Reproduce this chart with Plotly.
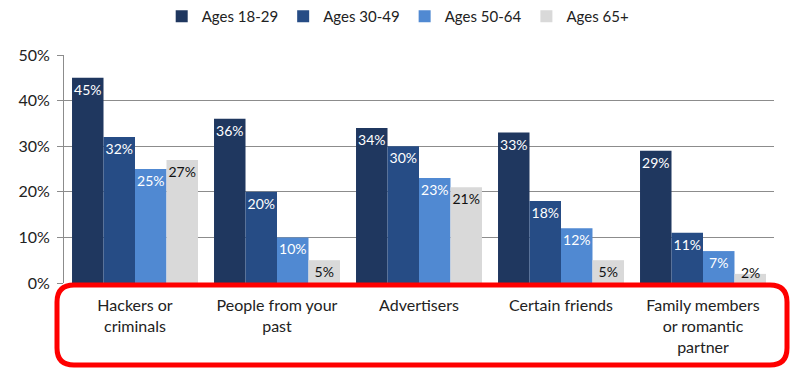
import plotly.graph_objects as go

categories = ["Hackers or<br>criminals", "People from your<br>past", "Advertisers",
              "Certain friends", "Family members<br>or romantic<br>partner"]
series_names = ["Ages 18-29", "Ages 30-49", "Ages 50-64", "Ages 65+"]
ages_18_29 = [45, 36, 34, 33, 29]
ages_30_49 = [32, 20, 30, 18, 11]
ages_50_64 = [25, 10, 23, 12, 7]
ages_65_plus = [27, 5, 21, 5, 2]
y_ticks = [0, 10, 20, 30, 40, 50]

colors = ["#1f375f", "#264c85", "#5089d2", "#d9d9d9"]
text_colors = ["white", "white", "white", "#111111"]

W, H = 790, 368
ML, MR, MT, MB = 64, 16, 55, 85
BARGAP = 0.113
MIN_INSIDE = 4  # values below this get their label set on the baseline

all_series = [ages_18_29, ages_30_49, ages_50_64, ages_65_plus]
fig = go.Figure()
for name, vals, c, tc in zip(series_names, all_series, colors, text_colors):
    fig.add_trace(go.Bar(
        x=categories, y=vals, name=name,
        marker=dict(color=c, line=dict(width=0)),
        text=[f"{v}%" if v >= MIN_INSIDE else "" for v in vals],
        textposition="inside", insidetextanchor="end", textangle=0,
        textfont=dict(color=tc, size=14, family="Lato"),
        cliponaxis=False,
    ))

# small values: label sits on the baseline, overlapping the short bar
n_series = len(all_series)
bar_w = (1 - BARGAP) / n_series
for si, (vals, tc) in enumerate(zip(all_series, text_colors)):
    offset = -(1 - BARGAP) / 2 + bar_w * (si + 0.5)
    for ci, v in enumerate(vals):
        if v < MIN_INSIDE:
            fig.add_annotation(x=ci + offset, y=0, xref="x", yref="y",
                               text=f"{v}%", showarrow=False, yanchor="bottom",
                               font=dict(color=tc, size=14, family="Lato"))

# rounded highlight frame around the category labels (paper coordinates)
pw, ph = W - ML - MR, H - MT - MB
def px_to_paper(x, y):
    return (x - ML) / pw, (H - MB - y) / ph

x0, y0, x1, y1, r = 57, 285, 787, 365, 17
def P(x, y):
    a, b = px_to_paper(x, y)
    return f"{a:.5f},{b:.5f}"
path = (f"M {P(x0 + r, y0)} L {P(x1 - r, y0)} Q {P(x1, y0)} {P(x1, y0 + r)} "
        f"L {P(x1, y1 - r)} Q {P(x1, y1)} {P(x1 - r, y1)} "
        f"L {P(x0 + r, y1)} Q {P(x0, y1)} {P(x0, y1 - r)} "
        f"L {P(x0, y0 + r)} Q {P(x0, y0)} {P(x0 + r, y0)} Z")
fig.add_shape(type="path", path=path, xref="paper", yref="paper",
              line=dict(color="#ff0000", width=5), layer="above")

fig.update_layout(
    width=W, height=H,
    margin=dict(l=ML, r=MR, t=MT, b=MB),
    barmode="group", bargap=BARGAP, bargroupgap=0,
    plot_bgcolor="white", paper_bgcolor="white",
    font=dict(family="Lato", size=16, color="#222222"),
    uniformtext=dict(minsize=14, mode="show"),
    legend=dict(orientation="h", x=0.47, xanchor="center", y=1.0, yref="container",
                yanchor="top", font=dict(size=15), itemwidth=30,
                traceorder="normal"),
    showlegend=True,
)
fig.update_xaxes(showgrid=False, showline=False, ticks="", tickfont=dict(size=16),
                 ticklabelstandoff=11)
fig.update_yaxes(range=[0, 50], tickvals=y_ticks,
                 ticktext=[f"{v}%" for v in y_ticks],
                 showgrid=True, gridcolor="#8c8c8c", gridwidth=1,
                 showline=True, linecolor="#8c8c8c", ticks="outside",
                 ticklen=6, tickcolor="#8c8c8c", zeroline=False,
                 tickfont=dict(size=16), ticklabelstandoff=4)

fig.write_html("out.html")
